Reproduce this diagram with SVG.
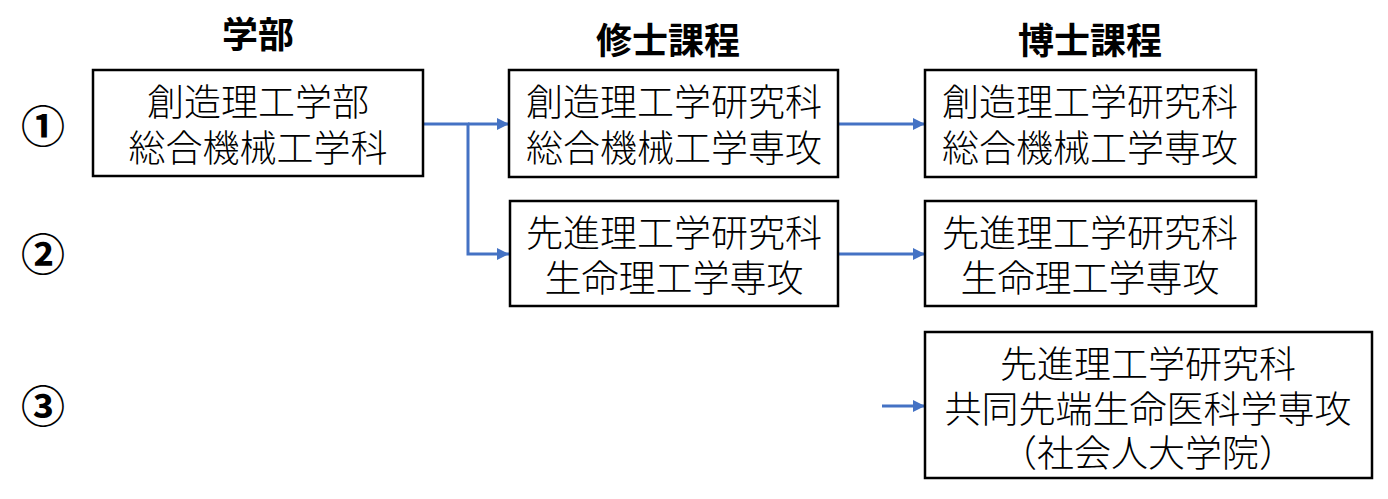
<svg xmlns="http://www.w3.org/2000/svg" width="1388" height="499" viewBox="0 0 1388 499">
<style>
.box{fill:#fff;stroke:#000;stroke-width:2.5}
.t{font-family:"Noto Sans CJK JP","Noto Sans",sans-serif;font-size:37px;font-weight:300;fill:#000;text-anchor:middle;dominant-baseline:central}
.h{font-family:"Noto Sans CJK JP","Noto Sans",sans-serif;font-size:36px;font-weight:bold;fill:#000;text-anchor:middle;dominant-baseline:central}
.n{font-family:"Noto Sans CJK JP","DejaVu Sans",sans-serif;font-size:44px;font-weight:bold;fill:#000;text-anchor:middle;dominant-baseline:central}
.c{fill:none;stroke:#4472C4;stroke-width:3}
</style>
<defs>
<marker id="ah" markerWidth="12" markerHeight="12" refX="12" refY="6" orient="auto" markerUnits="userSpaceOnUse" viewBox="0 0 12 12">
<path d="M0,0 L12,6 L0,12 z" fill="#4472C4"/>
</marker>
</defs>
<g id="headers">
<text class="h" x="258" y="32">学部</text>
<text class="h" x="668" y="38">修士課程</text>
<text class="h" x="1090" y="38">博士課程</text>
</g>
<g id="numbers">
<text class="n" x="43" y="124">①</text>
<text class="n" x="43" y="252">②</text>
<text class="n" x="43" y="404">③</text>
</g>
<g id="connectors">
<path class="c" d="M423,124 H468 V254 H509" marker-end="url(#ah)"/>
<path class="c" d="M468,124 H509" marker-end="url(#ah)"/>
<path class="c" d="M838,124 H925" marker-end="url(#ah)"/>
<path class="c" d="M838,254 H925" marker-end="url(#ah)"/>
<path class="c" d="M882,406 H925" marker-end="url(#ah)"/>
</g>
<g id="b1">
<rect class="box" x="93" y="70" width="330" height="106"/>
<text class="t" x="258" y="100">創造理工学部</text>
<text class="t" x="258" y="146">総合機械工学科</text>
</g>
<g id="m1">
<rect class="box" x="509" y="70" width="329" height="107"/>
<text class="t" x="674" y="100">創造理工学研究科</text>
<text class="t" x="674" y="146">総合機械工学専攻</text>
</g>
<g id="m2">
<rect class="box" x="510" y="201" width="328" height="105"/>
<text class="t" x="674" y="231">先進理工学研究科</text>
<text class="t" x="674" y="276">生命理工学専攻</text>
</g>
<g id="d1">
<rect class="box" x="925" y="70" width="331" height="107"/>
<text class="t" x="1090" y="100">創造理工学研究科</text>
<text class="t" x="1090" y="146">総合機械工学専攻</text>
</g>
<g id="d2">
<rect class="box" x="925" y="201" width="331" height="105"/>
<text class="t" x="1090" y="231">先進理工学研究科</text>
<text class="t" x="1090" y="276">生命理工学専攻</text>
</g>
<g id="d3">
<rect class="box" x="925" y="332" width="447" height="146"/>
<text class="t" x="1148" y="362">先進理工学研究科</text>
<text class="t" x="1148" y="407">共同先端生命医科学専攻</text>
<text class="t" x="1148" y="451">（社会人大学院）</text>
</g>
</svg>
